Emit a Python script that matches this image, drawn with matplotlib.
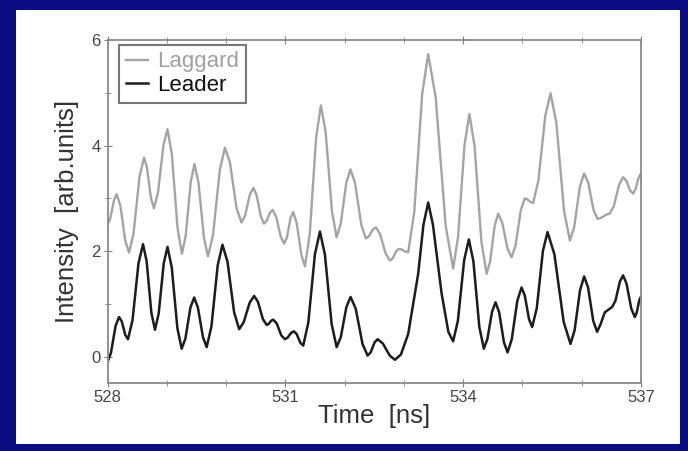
import matplotlib
matplotlib.use("Agg")
import matplotlib.pyplot as plt
from matplotlib.patches import Rectangle
from matplotlib.ticker import MultipleLocator

plt.rcParams['font.family'] = ['Liberation Sans', 'DejaVu Sans']

# laggard pulse (time in ns, intensity in arb. units)
t_laggard = [528.0, 528.047, 528.109, 528.155, 528.217, 528.301, 528.363, 528.439,
             528.540, 528.616, 528.666, 528.734, 528.784, 528.852, 528.944, 529.012,
             529.085, 529.183, 529.256, 529.319, 529.404, 529.467, 529.535, 529.627,
             529.695, 529.781, 529.895, 529.981, 530.065, 530.176, 530.260, 530.321,
             530.401, 530.462, 530.515, 530.586, 530.639, 530.683, 530.742, 530.786,
             530.845, 530.923, 530.981, 531.027, 531.087, 531.133, 531.192, 531.272,
             531.331, 531.412, 531.519, 531.600, 531.680, 531.786, 531.865, 531.935,
             532.028, 532.098, 532.176, 532.281, 532.359, 532.410, 532.477, 532.528,
             532.599, 532.693, 532.764, 532.810, 532.870, 532.916, 532.963, 533.026,
             533.073, 533.174, 533.309, 533.410, 533.536, 533.705, 533.831, 533.913,
             534.023, 534.105, 534.192, 534.308, 534.395, 534.454, 534.532, 534.590,
             534.658, 534.748, 534.816, 534.883, 534.973, 535.040, 535.082, 535.138,
             535.180, 535.268, 535.386, 535.474, 535.572, 535.702, 535.800, 535.872,
             535.969, 536.041, 536.109, 536.199, 536.267, 536.329, 536.412, 536.474,
             536.541, 536.631, 536.698, 536.749, 536.816, 536.867, 536.907, 536.960,
             537.0]
i_laggard = [2.50, 2.62, 2.96, 3.08, 2.86, 2.19, 1.97, 2.33,
             3.41, 3.77, 3.58, 3.00, 2.81, 3.11, 4.01, 4.31,
             3.84, 2.42, 1.95, 2.29, 3.31, 3.65, 3.30, 2.25,
             1.90, 2.31, 3.54, 3.96, 3.68, 2.82, 2.54, 2.67,
             3.07, 3.20, 3.06, 2.66, 2.52, 2.57, 2.73, 2.78,
             2.65, 2.27, 2.14, 2.26, 2.62, 2.74, 2.53, 1.92,
             1.71, 2.32, 4.15, 4.76, 4.26, 2.76, 2.26, 2.52,
             3.29, 3.55, 3.29, 2.50, 2.24, 2.28, 2.41, 2.45,
             2.32, 1.95, 1.82, 1.86, 2.00, 2.04, 2.03, 1.99,
             1.98, 2.73, 4.98, 5.73, 4.92, 2.48, 1.67, 2.26,
             4.01, 4.60, 3.99, 2.18, 1.57, 1.80, 2.48, 2.71,
             2.54, 2.05, 1.88, 2.10, 2.78, 3.00, 2.98, 2.93,
             2.91, 3.33, 4.57, 4.99, 4.43, 2.76, 2.20, 2.45,
             3.22, 3.47, 3.30, 2.78, 2.61, 2.63, 2.69, 2.71,
             2.85, 3.26, 3.40, 3.34, 3.15, 3.09, 3.17, 3.39,
             3.47]

# leader pulse
t_leader = [528.0, 528.058, 528.136, 528.194, 528.240, 528.300, 528.346, 528.422,
            528.523, 528.599, 528.660, 528.740, 528.801, 528.864, 528.949, 529.012,
            529.084, 529.179, 529.251, 529.314, 529.399, 529.462, 529.525, 529.610,
            529.673, 529.753, 529.859, 529.939, 530.024, 530.136, 530.221, 530.297,
            530.398, 530.474, 530.537, 530.622, 530.685, 530.718, 530.761, 530.794,
            530.854, 530.933, 530.993, 531.038, 531.097, 531.142, 531.190, 531.254,
            531.302, 531.387, 531.499, 531.584, 531.668, 531.781, 531.865, 531.936,
            532.030, 532.101, 532.187, 532.302, 532.388, 532.439, 532.506, 532.557,
            532.644, 532.761, 532.848, 532.950, 533.073, 533.241, 533.330, 533.410,
            533.490, 533.636, 533.750, 533.831, 533.911, 534.017, 534.096, 534.172,
            534.273, 534.349, 534.408, 534.487, 534.546, 534.607, 534.688, 534.749,
            534.820, 534.914, 534.985, 535.039, 535.111, 535.164, 535.242, 535.345,
            535.423, 535.539, 535.695, 535.811, 535.880, 535.972, 536.041, 536.107,
            536.194, 536.260, 536.320, 536.390, 536.513, 536.569, 536.643, 536.698,
            536.757, 536.836, 536.895, 536.927, 536.969, 537.0]
i_leader = [-0.10, 0.07, 0.58, 0.75, 0.67, 0.41, 0.33, 0.69,
            1.77, 2.13, 1.81, 0.83, 0.51, 0.82, 1.77, 2.08,
            1.69, 0.54, 0.15, 0.34, 0.93, 1.12, 0.93, 0.37,
            0.18, 0.57, 1.73, 2.12, 1.80, 0.84, 0.52, 0.65,
            1.02, 1.15, 1.04, 0.71, 0.60, 0.62, 0.68, 0.70,
            0.63, 0.40, 0.33, 0.36, 0.45, 0.48, 0.43, 0.26,
            0.21, 0.64, 1.94, 2.37, 1.93, 0.62, 0.18, 0.37,
            0.94, 1.13, 0.91, 0.24, 0.02, 0.08, 0.27, 0.33,
            0.25, 0.02, -0.06, 0.04, 0.43, 1.57, 2.50, 2.92,
            2.50, 1.20, 0.47, 0.29, 0.68, 1.83, 2.22, 1.81,
            0.56, 0.15, 0.33, 0.85, 1.03, 0.84, 0.27, 0.08,
            0.33, 1.06, 1.31, 1.16, 0.71, 0.56, 0.92, 2.00,
            2.36, 1.94, 0.66, 0.24, 0.50, 1.26, 1.52, 1.31,
            0.68, 0.47, 0.62, 0.84, 0.94, 1.06, 1.42, 1.54,
            1.38, 0.91, 0.75, 0.83, 1.06, 1.14]

fig = plt.figure(figsize=(6.88, 4.51), dpi=100, facecolor='#0c0c82')
# white panel inside the blue frame
fig.patches.append(Rectangle((16 / 688, 7 / 451), 664 / 688, 434 / 451,
                             transform=fig.transFigure, facecolor='white',
                             edgecolor='none', zorder=-10))

ax = fig.add_axes([107.5 / 688, 1 - 383 / 451, 533.5 / 688, 343 / 451])
ax.set_zorder(5)
ax.set_facecolor('white')
ax.plot(t_laggard, i_laggard, color='#a4a4a4', lw=1.7, label='Laggard',
        solid_joinstyle='round')
ax.plot(t_leader, i_leader, color='#1c1c1c', lw=1.8, label='Leader',
        solid_joinstyle='round')

ax.set_xlim(528, 537)
ax.set_ylim(-0.5, 6)
ax.xaxis.set_major_locator(MultipleLocator(3))
ax.xaxis.set_minor_locator(MultipleLocator(1))
ax.yaxis.set_major_locator(MultipleLocator(2))
ax.yaxis.set_minor_locator(MultipleLocator(1))
ax.tick_params(which='both', top=True, right=False, direction='inout',
               color='#808080', labelcolor='#444444', labelsize=12, pad=2)
ax.tick_params(which='major', length=6)
ax.tick_params(which='minor', length=4)
for s in ax.spines.values():
    s.set_color('#8a8a8a')
    s.set_linewidth(1.3)

ax.set_xlabel('Time  [ns]', fontsize=18.5, color='#333333', labelpad=-1)
ax.set_ylabel('Intensity  [arb.units]', fontsize=18.5, color='#333333', labelpad=9)

leg = ax.legend(loc='upper left', bbox_to_anchor=(0.022, 0.986), borderaxespad=0,
                fontsize=16, frameon=True, fancybox=False, handlelength=1.0,
                handletextpad=0.4, labelspacing=0.12, borderpad=0.3)
leg.get_frame().set_edgecolor('#555555')
leg.get_frame().set_linewidth(1.5)
leg.get_texts()[0].set_color('#a0a0a0')
leg.get_texts()[1].set_color('#111111')

fig.savefig('out.png', dpi=100, facecolor=fig.get_facecolor())
